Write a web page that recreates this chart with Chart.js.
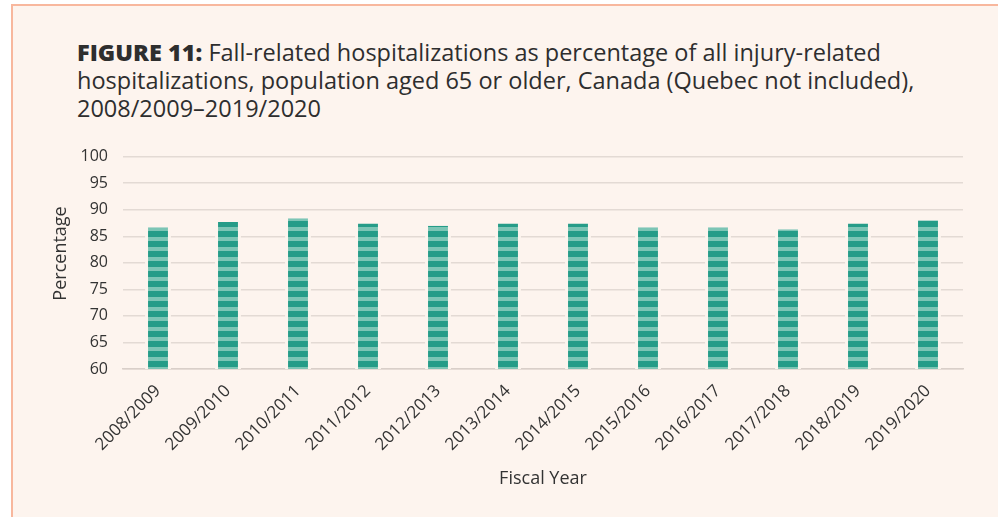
<!DOCTYPE html>
<html>
<head>
<meta charset="utf-8">
<script src="https://cdn.jsdelivr.net/npm/chart.js@4.4.0/dist/chart.umd.min.js"></script>
<style>
  html, body { margin: 0; padding: 0; background: #ffffff; }
  body { width: 998px; height: 517px; position: relative; overflow: hidden; }
  .panel {
    position: absolute; left: 11px; top: 4px; width: 1000px; height: 600px;
    background: #fdf4ee;
    border-top: 2px solid #f8b79d;
    border-left: 2px solid #f8b79d;
  }
  .title {
    position: absolute; left: 77px; top: 38px; width: 890px;
    font-family: "Open Sans", sans-serif; font-size: 23.5px; line-height: 28px;
    color: #2e2e2e;
  }
  .title b { font-weight: 800; }
  .wrap { position: absolute; left: 40px; top: 132px; width: 938px; height: 358px; }
</style>
</head>
<body>
<div class="panel"></div>
<div class="title"><b>FIGURE 11:</b> Fall-related hospitalizations as percentage of all injury-related hospitalizations, population aged 65 or older, Canada (Quebec not included), 2008/2009–2019/2020</div>
<div class="wrap"><canvas id="myChart"></canvas></div>
<script>
let years = ["2008/2009", "2009/2010", "2010/2011", "2011/2012", "2012/2013", "2013/2014",
             "2014/2015", "2015/2016", "2016/2017", "2017/2018", "2018/2019", "2019/2020"];
let percentages = [86.7, 87.7, 88.4, 87.4, 87.0, 87.4, 87.4, 86.7, 86.7, 86.3, 87.4, 88.0];
let yTicks = [60, 65, 70, 75, 80, 85, 90, 95, 100];

// striped fill for the bars
let tile = document.createElement("canvas");
tile.width = 1;
tile.height = 10;
let tctx = tile.getContext("2d");
tctx.fillStyle = "#259c88";
tctx.fillRect(0, 0, 1, 10);
tctx.fillStyle = "#7cc5b5";
tctx.fillRect(0, 5, 1, 4);

let ctx = document.getElementById("myChart");
let stripes = ctx.getContext("2d").createPattern(tile, "repeat");

let txt = "#333333";
let font = "'Open Sans', sans-serif";

new Chart(ctx, {
  type: "bar",
  data: {
    labels: years,
    datasets: [{
      data: percentages,
      backgroundColor: stripes,
      borderColor: "#fdf4ee",
      borderWidth: { left: 3, right: 3, top: 0, bottom: 0 },
      barPercentage: 0.37,
      categoryPercentage: 1
    }]
  },
  options: {
    responsive: true,
    maintainAspectRatio: false,
    animation: false,
    layout: { padding: { left: 10, right: 15, top: 8, bottom: 0 } },
    plugins: { legend: { display: false }, tooltip: { enabled: false } },
    scales: {
      x: {
        grid: { display: false },
        border: { color: "#d9cfc9", width: 1.5 },
        ticks: {
          color: txt, font: { family: font, size: 17 },
          autoSkip: false, minRotation: 45, maxRotation: 45, padding: 4
        },
        title: {
          display: true, text: "Fiscal Year", color: txt,
          font: { family: font, size: 18 }, padding: 0
        },
        afterFit: (s) => { s.height = 121; }
      },
      y: {
        min: 60, max: 100,
        afterBuildTicks: (s) => { s.ticks = yTicks.map((v) => ({ value: v })); },
        grid: { color: "#e3dad4", lineWidth: 1.5, drawTicks: false },
        border: { display: false },
        ticks: { color: txt, font: { family: font, size: 16 }, padding: 15 },
        title: {
          display: true, text: "    Percentage", color: txt,
          font: { family: font, size: 18 }, padding: 0
        },
        afterFit: (s) => { s.width = 73; }
      }
    }
  }
});
</script>
</body>
</html>
